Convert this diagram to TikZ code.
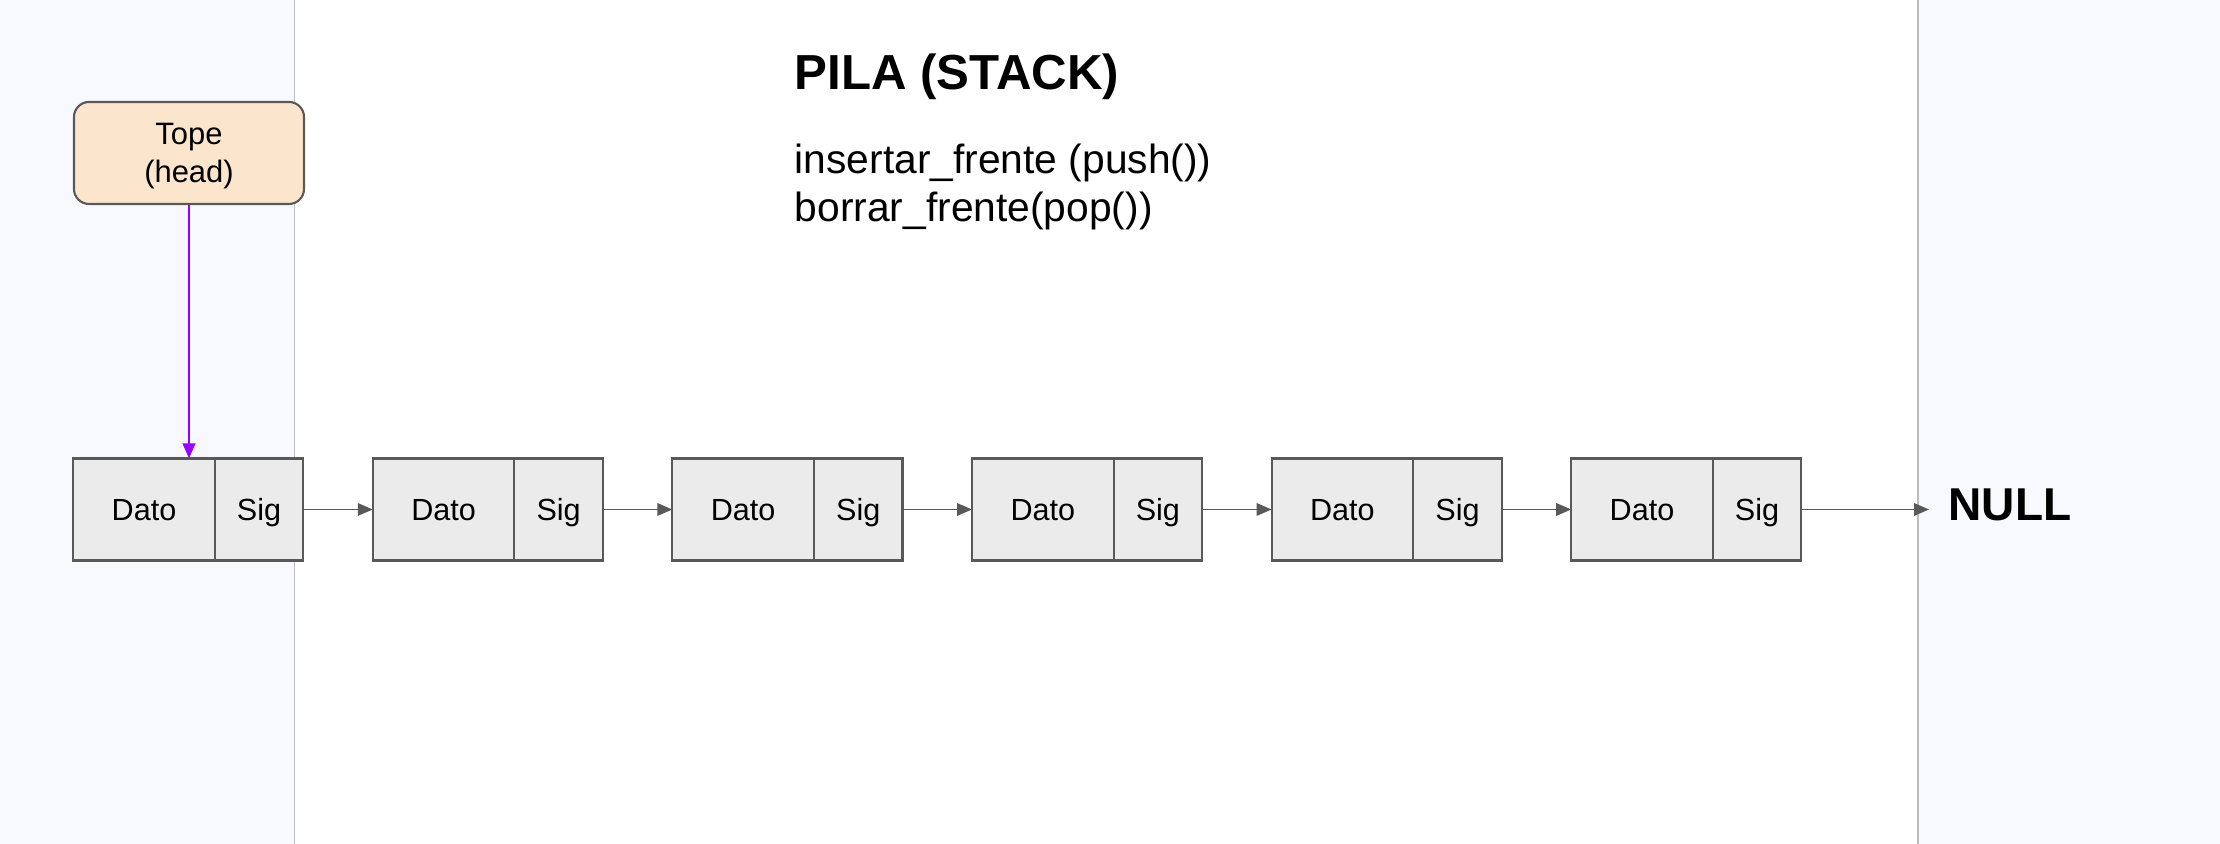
\documentclass[tikz,border=0pt]{standalone}
\usepackage{fontspec}
\setmainfont{Liberation Sans}
\usetikzlibrary{arrows.meta}
\definecolor{bandblue}{RGB}{248,249,254}
\definecolor{bandline}{RGB}{189,189,189}
\definecolor{edgegray}{RGB}{89,89,89}
\definecolor{cellgray}{RGB}{235,235,235}
\definecolor{topefill}{RGB}{252,229,205}
\definecolor{purpura}{RGB}{153,0,255}
\tikzset{
	celda/.style={draw=edgegray, fill=cellgray, line width=0.6pt, minimum height=1.02cm, inner sep=0pt, outer sep=0pt, text height=6.2pt, text depth=0pt, font=\fontsize{8.7}{10}\selectfont},
	dato/.style={celda, minimum width=1.416cm},
	sig/.style={celda, minimum width=0.885cm},
	enlace/.style={draw=edgegray, line width=0.5pt, -{Triangle[length=1.5mm,width=1.25mm]}}
}

\begin{document}
\begin{tikzpicture}
			\useasboundingbox (0,0) rectangle (22.2,8.44);
			\fill[white] (0,0) rectangle (22.2,8.44);
			\fill[bandblue] (0,0) rectangle (2.945,8.44);
			\fill[bandblue] (19.18,0) rectangle (22.2,8.44);
			\draw[bandline, line width=0.45pt] (2.945,0) -- (2.945,8.44);
			\draw[bandline, line width=0.45pt] (19.18,0) -- (19.18,8.44);
			% titulo
			\node[anchor=base west, inner sep=0pt, font=\fontsize{14}{16}\selectfont\bfseries] (titulo) at (7.94,7.54) {PILA (STACK)};
			\node[anchor=base west, inner sep=0pt, font=\fontsize{11.6}{13.7}\selectfont] (push) at (7.94,6.70) {insertar\_frente (push())};
			\node[anchor=base west, inner sep=0pt, font=\fontsize{11.6}{13.7}\selectfont] (pop) at (7.94,6.22) {borrar\_frente(pop())};
			% nodos de la lista
			\foreach \i in {1,...,6} {
				\node[dato] (dato\i) at ({1.44+2.996*(\i-1)},3.345) {Dato};
				\node[sig, anchor=west] (sig\i) at (dato\i.east) {Sig};
			}
			\foreach \i [count=\j from 2] in {1,...,5}
				\draw[enlace] (sig\i) -- (dato\j);
			\coordinate (fin) at (19.29,3.345);
			\draw[enlace] (sig6) -- (fin);
			\node[anchor=base west, inner sep=0pt, font=\fontsize{13.1}{15}\selectfont\bfseries] (null) at (19.48,3.23) {NULL};
			% tope
			\node[draw=edgegray, fill=topefill, line width=0.6pt, rounded corners=0.15cm, minimum width=2.30cm, minimum height=1.02cm, text depth=0pt, align=center, font=\fontsize{8.8}{10.7}\selectfont] (tope) at (1.89,6.91) {Tope\\(head)};
			\draw[purpura, line width=0.6pt, -{Triangle[length=1.5mm,width=1.25mm]}] (tope.south) -- (tope.south |- dato1.north);
		\end{tikzpicture}
\end{document}
